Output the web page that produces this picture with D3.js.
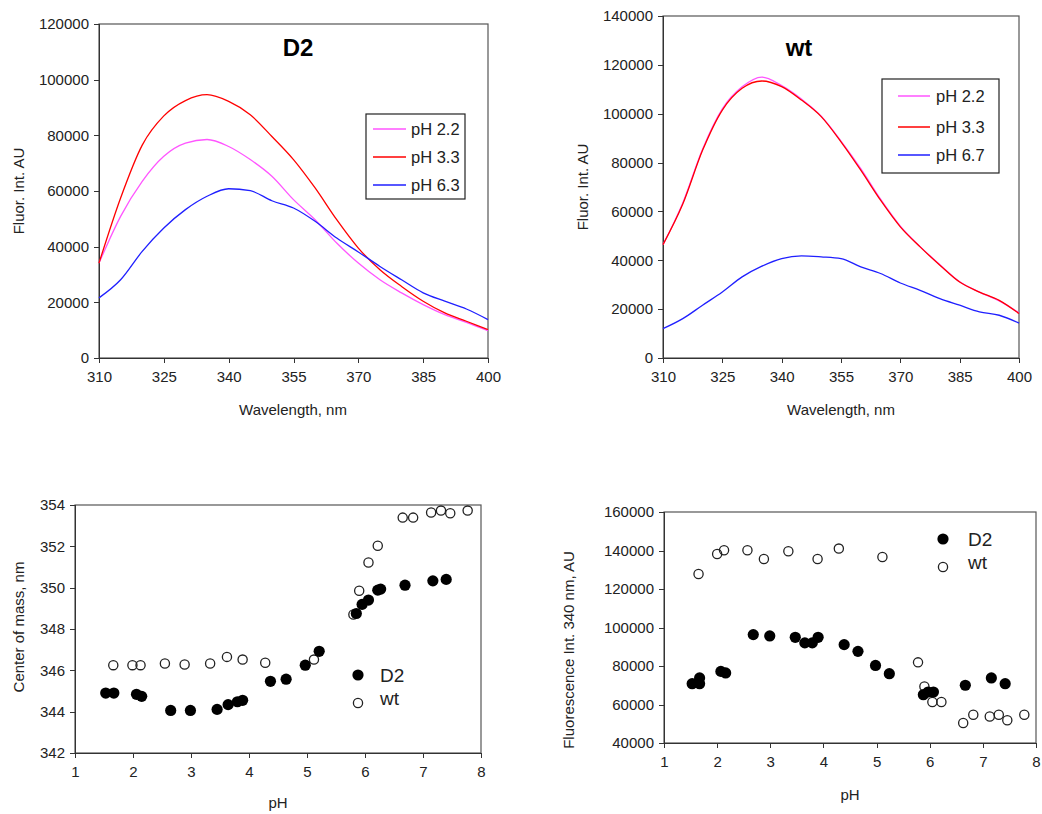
<!DOCTYPE html>
<html>
<head>
<meta charset="utf-8">
<script src="https://cdnjs.cloudflare.com/ajax/libs/d3/7.8.5/d3.min.js"></script>
<style>
body { margin: 0; background: #fff; }
svg text { font-family: "Liberation Sans", Arial, sans-serif; fill: #222; }
.axis path, .axis line { stroke: #333; shape-rendering: crispEdges; }
.axis text { font-size: 15px; }
</style>
</head>
<body>
<script>
// spectra, every 5 nm
var wavelengths = [310,315,320,325,330,335,340,345,350,355,360,365,370,375,380,385,390,395,400];

var d2_ph22 = [34100,50900,63500,72500,77200,78500,76000,71300,65300,56900,49700,41300,34100,28100,23400,19200,15600,12800,9800];
var d2_ph33 = [34100,57500,76500,87000,92500,94600,92200,87400,79600,71300,61100,49700,39500,31700,25700,20400,16200,13200,10200];
var d2_ph63 = [21600,28100,38300,46700,53300,58100,60800,60100,56500,53900,49100,43100,38100,32900,28100,23400,20400,17600,13800];

var wt_ph22 = [46400,63500,85500,102000,111000,115000,111500,106000,99000,88800,77500,65000,54000,45600,38200,31200,27000,23400,18500];
var wt_ph33 = [46400,63000,85000,101500,110400,113400,111100,105600,98800,88500,76900,64600,53700,45500,38000,31100,27000,23600,18200];
var wt_ph67 = [12000,16100,21600,27000,33200,37600,40700,41800,41400,40700,37300,34600,30700,27700,24300,21600,18900,17500,14300];

var d2Labels = ["pH 2.2","pH 3.3","pH 6.3"];
var wtLabels = ["pH 2.2","pH 3.3","pH 6.7"];
var lineColors = ["#ff55ff","#ff0000","#1f1fff"];

// center of mass vs pH
var cm_d2_ph  = [1.53,1.67,2.06,2.15,2.65,2.99,3.45,3.64,3.80,3.89,4.37,4.64,4.97,5.21,5.85,5.95,6.06,6.22,6.27,6.69,7.17,7.40];
var cm_d2_val = [344.90,344.90,344.84,344.74,344.06,344.06,344.11,344.34,344.48,344.55,345.47,345.57,346.25,346.92,348.75,349.19,349.40,349.88,349.93,350.12,350.33,350.40];
var cm_wt_ph  = [1.66,1.99,2.13,2.55,2.89,3.33,3.62,3.89,4.28,5.12,5.80,5.90,6.06,6.22,6.65,6.83,7.14,7.31,7.47,7.77];
var cm_wt_val = [346.25,346.25,346.25,346.33,346.28,346.33,346.65,346.52,346.37,346.52,348.70,349.85,351.22,352.03,353.39,353.39,353.64,353.73,353.60,353.73];

// fluorescence at 340 nm vs pH
var fl_d2_ph  = [1.53,1.67,1.67,2.07,2.16,2.68,2.99,3.47,3.65,3.79,3.90,4.39,4.65,4.98,5.24,5.88,5.97,6.07,6.67,7.16,7.42];
var fl_d2_val = [70800,73800,70800,77200,76400,96300,95600,94900,92000,92000,94900,91100,87600,80300,76000,65100,66500,66500,70000,73800,70800];
var fl_wt_ph  = [1.65,2.00,2.13,2.57,2.88,3.34,3.89,4.29,5.11,5.78,5.90,6.05,6.22,6.63,6.82,7.13,7.30,7.46,7.78];
var fl_wt_val = [127800,138200,140100,140100,135600,139600,135600,141000,136600,81900,69400,61300,61300,50400,54700,53800,54700,51800,54700];

var svg = d3.select("body").append("svg")
	.attr("width",1042)
	.attr("height",814);

function makePanel(box, xDom, xTicks, yDom, yTicks){
	var x = d3.scaleLinear().domain(xDom).range([box.l, box.r]);
	var y = d3.scaleLinear().domain(yDom).range([box.b, box.t]);
	var g = svg.append("g");

	g.append("rect")
		.attr("x",box.l).attr("y",box.t)
		.attr("width",box.r-box.l).attr("height",box.b-box.t)
		.attr("fill","none").attr("stroke","#555").attr("stroke-width",1.2);

	g.append("g").attr("class","axis")
		.attr("transform","translate(0,"+box.b+")")
		.call(d3.axisBottom(x).tickValues(xTicks).tickSize(5).tickPadding(8).tickFormat(d3.format("d")))
		.selectAll("text").attr("font-size",15);

	g.append("g").attr("class","axis")
		.attr("transform","translate("+box.l+",0)")
		.call(d3.axisLeft(y).tickValues(yTicks).tickSize(5).tickPadding(5).tickFormat(d3.format("d")))
		.selectAll("text").attr("font-size",15);

	g.selectAll(".axis .domain").attr("stroke-width",1.5);
	return {g:g, x:x, y:y};
}

function axisTitles(p, xt, xx, xy, yt, yx, yy){
	p.g.append("text").attr("x",xx).attr("y",xy)
		.attr("text-anchor","middle").attr("font-size",15).text(xt);
	p.g.append("text")
		.attr("transform","translate("+yx+","+yy+") rotate(-90)")
		.attr("text-anchor","middle").attr("font-size",15).text(yt);
}

function drawSpectra(p, series, labels, leg){
	var line = d3.line()
		.x(function(d,i){return p.x(wavelengths[i]);})
		.y(function(d){return p.y(d);})
		.curve(d3.curveMonotoneX);
	series.forEach(function(s,k){
		p.g.append("path").attr("d",line(s))
			.attr("fill","none").attr("stroke",lineColors[k]).attr("stroke-width",1.3);
	});
	p.g.append("rect").attr("x",leg.x).attr("y",leg.y).attr("width",leg.w).attr("height",leg.h)
		.attr("fill","#fff").attr("stroke","#222").attr("stroke-width",1.2);
	labels.forEach(function(t,k){
		var yy = leg.rows[k];
		p.g.append("line").attr("x1",leg.lx1).attr("x2",leg.lx2).attr("y1",yy).attr("y2",yy)
			.attr("stroke",lineColors[k]).attr("stroke-width",1.5);
		p.g.append("text").attr("x",leg.tx).attr("y",yy+6).attr("font-size",16.5).text(t);
	});
}

function drawScatter(p, d2x, d2y, wtx, wty, leg){
	p.g.selectAll(null).data(wtx).enter().append("circle")
		.attr("cx",function(d){return p.x(d);})
		.attr("cy",function(d,i){return p.y(wty[i]);})
		.attr("r",4.6).attr("fill","none").attr("stroke","#222").attr("stroke-width",1.3);
	p.g.selectAll(null).data(d2x).enter().append("circle")
		.attr("cx",function(d){return p.x(d);})
		.attr("cy",function(d,i){return p.y(d2y[i]);})
		.attr("r",5.6).attr("fill","#000");
	p.g.append("circle").attr("cx",leg.mx).attr("cy",leg.y1).attr("r",5.6).attr("fill","#000");
	p.g.append("circle").attr("cx",leg.mx).attr("cy",leg.y2).attr("r",4.6)
		.attr("fill","none").attr("stroke","#222").attr("stroke-width",1.3);
	p.g.append("text").attr("x",leg.tx).attr("y",leg.y1+7).attr("font-size",19).text("D2");
	p.g.append("text").attr("x",leg.tx).attr("y",leg.y2+2).attr("font-size",19).text("wt");
}

var wlTicks = [310,325,340,355,370,385,400];
var phTicks = [1,2,3,4,5,6,7,8];

// top left: D2 spectra
var p1 = makePanel({l:99,t:24,r:488,b:358},[310,400],wlTicks,[0,120000],d3.range(0,120001,20000));
drawSpectra(p1,[d2_ph22,d2_ph33,d2_ph63],d2Labels,
	{x:366,y:114,w:99,h:85,lx1:373,lx2:406,tx:411,rows:[129,157,185]});
p1.g.append("text").attr("x",298).attr("y",56).attr("text-anchor","middle")
	.attr("font-size",24).attr("font-weight","bold").style("fill","#000").text("D2");
axisTitles(p1,"Wavelength, nm",293,415,"Fluor. Int. AU",24,191);

// top right: wt spectra
var p2 = makePanel({l:663,t:16,r:1019,b:358},[310,400],wlTicks,[0,140000],d3.range(0,140001,20000));
drawSpectra(p2,[wt_ph22,wt_ph33,wt_ph67],wtLabels,
	{x:882,y:79,w:117,h:94,lx1:898,lx2:930,tx:936,rows:[96,127,155]});
p2.g.append("text").attr("x",799).attr("y",56).attr("text-anchor","middle")
	.attr("font-size",24).attr("font-weight","bold").style("fill","#000").text("wt");
axisTitles(p2,"Wavelength, nm",841,415,"Fluor. Int. AU",588,187);

// bottom left: center of mass
var p3 = makePanel({l:75,t:505,r:481,b:753},[1,8],phTicks,[342,354],d3.range(342,354.1,2));
drawScatter(p3,cm_d2_ph,cm_d2_val,cm_wt_ph,cm_wt_val,{mx:358,y1:675,y2:703,tx:380});
axisTitles(p3,"pH",278,808,"Center of mass, nm",24,627);

// bottom right: fluorescence at 340 nm
var p4 = makePanel({l:664,t:512,r:1036,b:743},[1,8],phTicks,[40000,160000],d3.range(40000,160001,20000));
drawScatter(p4,fl_d2_ph,fl_d2_val,fl_wt_ph,fl_wt_val,{mx:943,y1:539,y2:567,tx:968});
axisTitles(p4,"pH",850,800,"Fluorescence Int. 340 nm, AU",574,650);
</script>
</body>
</html>
